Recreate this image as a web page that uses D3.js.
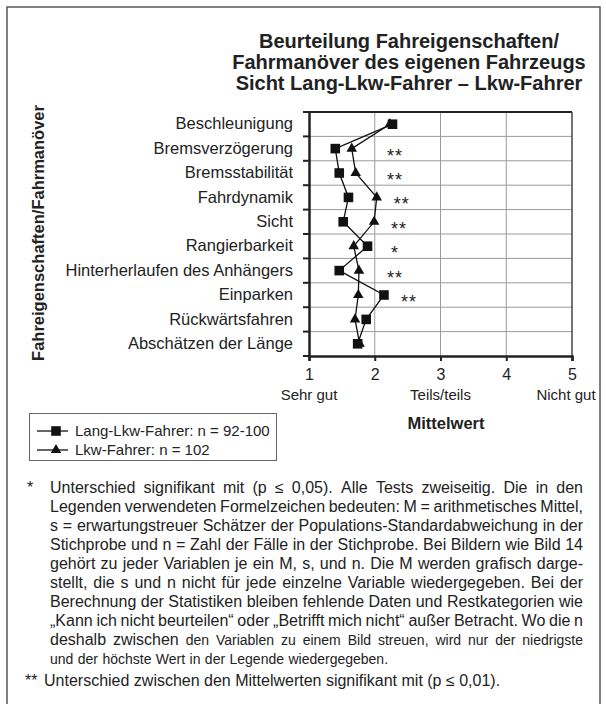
<!DOCTYPE html>
<html lang="de">
<head>
<meta charset="utf-8">
<style>
    body { margin: 0; background: #fff; }
    svg { display: block; font-family: "Liberation Sans", Arial, sans-serif; }
    .grid line { stroke: #9a9a9a; stroke-width: 1; }
</style>
</head>
<body>
<svg id="mainSVG" width="606" height="704"></svg>
<script src="https://cdn.jsdelivr.net/npm/d3@7"></script>
<script>

    var categories = ["Beschleunigung", "Bremsverzögerung", "Bremsstabilität", "Fahrdynamik", "Sicht",
        "Rangierbarkeit", "Hinterherlaufen des Anhängers", "Einparken", "Rückwärtsfahren", "Abschätzen der Länge"];
    var langLkw = [2.27, 1.40, 1.46, 1.60, 1.52, 1.89, 1.46, 2.14, 1.87, 1.74];
    var lkw = [2.23, 1.65, 1.71, 2.03, 1.99, 1.68, 1.76, 1.75, 1.70, 1.77];
    var sig = ["", "**", "**", "**", "**", "*", "**", "**", "", ""];
    var xTicks = [1, 2, 3, 4, 5];
    var anchorValues = [1, 3, 5];
    var anchorLabels = ["Sehr gut", "Teils/teils", "Nicht gut"];
    var titleLines = ["Beurteilung Fahreigenschaften/", "Fahrmanöver des eigenen Fahrzeugs", "Sicht Lang-Lkw-Fahrer – Lkw-Fahrer"];
    var legendLabels = ["Lang-Lkw-Fahrer: n = 92-100", "Lkw-Fahrer: n = 102"];

    // footnote lines: [text, font size]; last line of paragraph is not justified
    var note1 = [
        [["Unterschied signifikant mit (p ≤ 0,05). Alle Tests zweiseitig. Die in den", 16]],
        [["Legenden verwendeten Formelzeichen bedeuten: M = arithmetisches Mittel,", 16]],
        [["s = erwartungstreuer Schätzer der Populations-Standardabweichung in der", 16]],
        [["Stichprobe und n = Zahl der Fälle in der Stichprobe. Bei Bildern wie Bild 14", 16]],
        [["gehört zu jeder Variablen je ein M, s, und n. Die M werden grafisch darge-", 16]],
        [["stellt, die s und n nicht für jede einzelne Variable wiedergegeben. Bei der", 16]],
        [["Berechnung der Statistiken bleiben fehlende Daten und Restkategorien wie", 16]],
        [["„Kann ich nicht beurteilen“ oder „Betrifft mich nicht“ außer Betracht. Wo die n", 16]],
        [["deshalb zwischen", 16], ["den Variablen zu einem Bild streuen, wird nur der niedrigste", 14]],
        [["und der höchste Wert in der Legende wiedergegeben.", 14]]
    ];
    var note2 = "Unterschied zwischen den Mittelwerten signifikant mit (p ≤ 0,01).";

    var svg = d3.select("svg");

    // outer frame
    svg.append("rect")
        .attr("x", 7).attr("y", 7)
        .attr("width", 593).attr("height", 720)
        .attr("fill", "none")
        .attr("stroke", "#555")
        .attr("stroke-width", 1.5);

    var x = d3.scaleLinear().domain([1, 5]).range([309, 572]);
    var y = d3.scaleBand().domain(categories).range([112, 356]);
    var bw = y.bandwidth();

    // title
    svg.append("g").selectAll("text")
        .data(titleLines)
        .enter().append("text")
        .attr("x", 409)
        .attr("y", function (d, i) { return 48 + i * 21; })
        .attr("text-anchor", "middle")
        .attr("font-size", 20)
        .attr("font-weight", "bold")
        .attr("fill", "#222")
        .text(function (d) { return d; });

    // grid
    var grid = svg.append("g").attr("class", "grid");
    grid.selectAll(".h")
        .data(categories.slice(1))
        .enter().append("line")
        .attr("x1", x(1)).attr("x2", x(5))
        .attr("y1", function (d) { return y(d); })
        .attr("y2", function (d) { return y(d); });
    grid.selectAll(".v")
        .data([2, 3, 4])
        .enter().append("line")
        .attr("x1", function (d) { return x(d); })
        .attr("x2", function (d) { return x(d); })
        .attr("y1", y.range()[0]).attr("y2", y.range()[1]);

    // frame of plot
    svg.append("line").attr("x1", x(1)).attr("x2", x(5))
        .attr("y1", y.range()[0]).attr("y2", y.range()[0])
        .attr("stroke", "#222").attr("stroke-width", 2);
    svg.append("line").attr("x1", x(5)).attr("x2", x(5))
        .attr("y1", y.range()[0]).attr("y2", y.range()[1])
        .attr("stroke", "#444").attr("stroke-width", 1.5);

    // y axis: labels at band centres, ticks at band edges
    var yAxis = svg.append("g")
        .attr("transform", "translate(" + x(1) + ",0)")
        .call(d3.axisLeft(y).tickSize(0).tickPadding(16));
    yAxis.select(".domain").attr("stroke", "#222").attr("stroke-width", 2.5);
    yAxis.selectAll("text").attr("font-size", 16.5).attr("font-family", null).attr("fill", "#222");

    var edges = categories.map(function (d) { return y(d); }).concat([y.range()[1]]);
    yAxis.selectAll(".edge")
        .data(edges)
        .enter().append("line")
        .attr("x1", -6).attr("x2", 0)
        .attr("y1", function (d) { return d; })
        .attr("y2", function (d) { return d; })
        .attr("stroke", "#222").attr("stroke-width", 2);

    // x axis
    var xAxis = svg.append("g")
        .attr("transform", "translate(0," + y.range()[1] + ")")
        .call(d3.axisBottom(x).tickValues(xTicks).tickSize(5).tickPadding(8).tickFormat(d3.format("d")));
    xAxis.select(".domain").attr("stroke", "#222").attr("stroke-width", 2.5);
    xAxis.selectAll(".tick line").attr("stroke", "#222").attr("stroke-width", 2);
    xAxis.selectAll("text").attr("font-family", null).attr("font-size", 16).attr("fill", "#222");

    svg.append("g").selectAll("text")
        .data(anchorValues)
        .enter().append("text")
        .attr("x", function (d, i) { return x(d) - (i == 2 ? 6 : 0); })
        .attr("y", 400)
        .attr("text-anchor", "middle")
        .attr("font-size", 15)
        .attr("fill", "#222")
        .text(function (d, i) { return anchorLabels[i]; });

    svg.append("text")
        .attr("x", 446).attr("y", 429)
        .attr("text-anchor", "middle")
        .attr("font-size", 16.5)
        .attr("font-weight", "bold")
        .attr("fill", "#222")
        .text("Mittelwert");

    svg.append("text")
        .attr("transform", "translate(44,233) rotate(-90)")
        .attr("text-anchor", "middle")
        .attr("font-size", 16.5)
        .attr("font-weight", "bold")
        .attr("fill", "#222")
        .text("Fahreigenschaften/Fahrmanöver");

    // series
    var line = d3.line()
        .x(function (d) { return x(d[1]); })
        .y(function (d) { return y(d[0]) + bw / 2; });

    function pairs(vals) {
        return categories.map(function (c, i) { return [c, vals[i]]; });
    }

    svg.append("path").datum(pairs(lkw))
        .attr("d", line).attr("fill", "none").attr("stroke", "#111").attr("stroke-width", 1.3);
    svg.append("path").datum(pairs(langLkw))
        .attr("d", line).attr("fill", "none").attr("stroke", "#111").attr("stroke-width", 1.3);

    var tri = d3.symbol().type(d3.symbolTriangle).size(48);
    var sq = d3.symbol().type(d3.symbolSquare).size(92);

    svg.append("g").selectAll("path")
        .data(pairs(lkw))
        .enter().append("path")
        .attr("d", tri)
        .attr("transform", function (d) { return "translate(" + x(d[1]) + "," + (y(d[0]) + bw / 2) + ")"; })
        .attr("fill", "#111");
    svg.append("g").selectAll("path")
        .data(pairs(langLkw))
        .enter().append("path")
        .attr("d", sq)
        .attr("transform", function (d) { return "translate(" + x(d[1]) + "," + (y(d[0]) + bw / 2) + ")"; })
        .attr("fill", "#111");

    // significance marks right of the larger mean
    svg.append("g").selectAll("text")
        .data(categories)
        .enter().append("text")
        .attr("x", function (d, i) { return Math.max(x(Math.max(langLkw[i], lkw[i])) + 25, 395); })
        .attr("y", function (d) { return y(d) + bw / 2 + 13; })
        .attr("text-anchor", "middle")
        .attr("font-size", 18)
        .attr("letter-spacing", 1)
        .attr("fill", "#222")
        .text(function (d, i) { return sig[i]; });

    // legend
    var lg = svg.append("g");
    lg.append("rect")
        .attr("x", 29.5).attr("y", 413.5)
        .attr("width", 247).attr("height", 47)
        .attr("fill", "#fff").attr("stroke", "#666").attr("stroke-width", 1);
    var items = lg.selectAll(".item")
        .data(legendLabels)
        .enter().append("g")
        .attr("transform", function (d, i) { return "translate(0," + (431 + i * 19) + ")"; });
    items.append("line")
        .attr("x1", 37).attr("x2", 68)
        .attr("stroke", "#111").attr("stroke-width", 1.3);
    items.append("path")
        .attr("d", function (d, i) { return i == 0 ? sq() : tri(); })
        .attr("transform", "translate(56,0)")
        .attr("fill", "#111");
    items.append("text")
        .attr("x", 75).attr("dy", "0.35em")
        .attr("font-size", 15)
        .attr("fill", "#222")
        .text(function (d) { return d; });

    // footnotes, justified word by word
    var noteLeft = 50, noteRight = 583, noteTop = 493, lh = 19;
    var notes = svg.append("g").attr("fill", "#222");

    notes.append("text").attr("x", 27).attr("y", noteTop).attr("font-size", 16).text("*");

    note1.forEach(function (segs, li) {
        var words = [];
        segs.forEach(function (s) {
            s[0].split(" ").forEach(function (w) { words.push([w, s[1]]); });
        });
        var ly = noteTop + li * lh;
        var nodes = words.map(function (w) {
            return notes.append("text").attr("y", ly).attr("font-size", w[1]).text(w[0]);
        });
        var widths = nodes.map(function (n) { return n.node().getComputedTextLength(); });
        var total = d3.sum(widths);
        var justify = li < note1.length - 1;
        var gap = justify ? (noteRight - noteLeft - total) / (words.length - 1) : 4.4;
        var cx = noteLeft;
        nodes.forEach(function (n, i) {
            n.attr("x", cx);
            cx += widths[i] + gap;
        });
    });

    var y2 = noteTop + (note1.length - 1) * lh + 22;
    notes.append("text").attr("x", 25).attr("y", y2).attr("font-size", 16).text("**");
    notes.append("text").attr("x", 44).attr("y", y2).attr("font-size", 16).text(note2);

</script>
</body>
</html>
